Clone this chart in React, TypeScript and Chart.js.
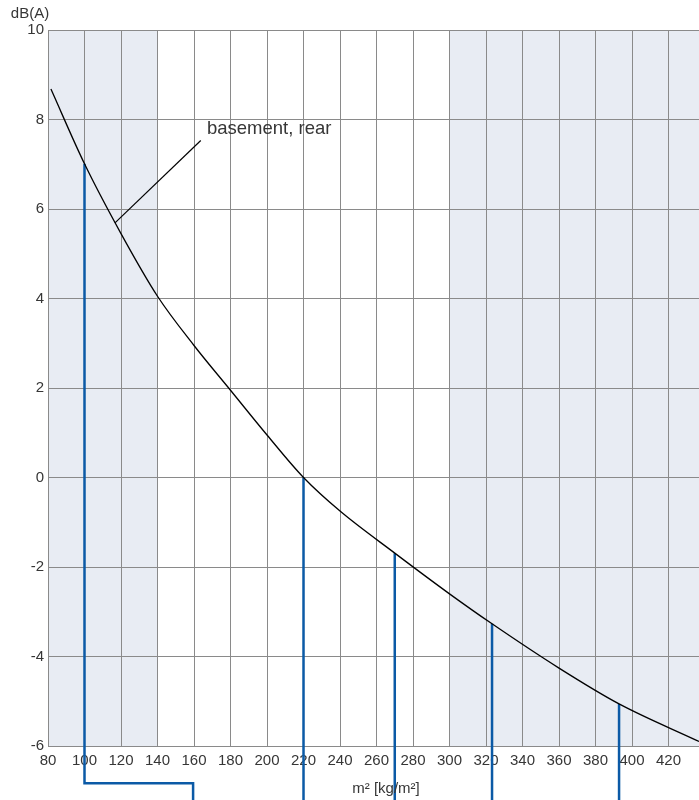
import { useEffect, useRef } from "react";
import { Chart, registerables } from "chart.js";

Chart.register(...registerables);

// Axis ticks
const xTicks = [80, 100, 120, 140, 160, 180, 200, 220, 240, 260, 280, 300, 320, 340, 360, 380, 400, 420];
const yTicks = [-6, -4, -2, 0, 2, 4, 6, 8, 10];
const xMin = 80;
const xMax = 436.7;
const yMin = -6;
const yMax = 10;

// Curve "basement, rear"
const curveX = [81.6, 100, 120, 140, 160, 180, 200, 220, 240, 270, 300, 323.3, 360, 392.9, 436.7];
const curveY = [8.68, 7.01, 5.45, 4.05, 2.95, 1.95, 0.95, 0, -0.75, -1.69, -2.6, -3.27, -4.26, -5.06, -5.9];

// Blue drop lines
const dropX = [100, 220, 270, 323.3, 392.9];
const dropTopY = [7.01, 0, -1.69, -3.27, -5.06];
const dropBottomY = -7.4;
const elbowY = -6.83;
const elbowX = 159.5;

// Leader line and label
const leaderX = [116.7, 163.7];
const leaderY = [5.69, 7.53];
const labelText = "basement, rear";
const labelX = 167.1;
const labelY = 7.79;

// Shaded bands
const bandFrom = [80, 300];
const bandTo = [140, 436.7];

const GRID = "#8a8a8a";
const BLUE = "#0b5aa6";
const TEXT = "#363636";
const FONT = "'Liberation Sans', Arial, sans-serif";

export default function App() {
  const ref = useRef<HTMLCanvasElement | null>(null);

  useEffect(() => {
    if (!ref.current) return;

    const dropSets = dropX.map((x, i) => {
      const pts =
        i === 0
          ? [
              { x, y: dropTopY[i] },
              { x, y: elbowY },
              { x: elbowX, y: elbowY },
              { x: elbowX, y: dropBottomY },
            ]
          : [
              { x, y: dropTopY[i] },
              { x, y: dropBottomY },
            ];
      return {
        data: pts,
        showLine: true,
        borderColor: BLUE,
        borderWidth: 2.5,
        pointRadius: 0,
        tension: 0,
        clip: false as any,
        order: 2,
      };
    });

    const bandsPlugin = {
      id: "bands",
      beforeDraw(chart: any) {
        const { ctx, chartArea, scales } = chart;
        ctx.save();
        ctx.fillStyle = "#e8ecf3";
        bandFrom.forEach((f, i) => {
          const x0 = scales.x.getPixelForValue(f);
          const x1 = scales.x.getPixelForValue(bandTo[i]);
          ctx.fillRect(x0, chartArea.top, x1 - x0, chartArea.bottom - chartArea.top);
        });
        ctx.restore();
      },
    };

    const textPlugin = {
      id: "texts",
      afterDraw(chart: any) {
        const { ctx, scales } = chart;
        ctx.save();
        ctx.fillStyle = TEXT;
        ctx.textBaseline = "middle";
        ctx.font = `15px ${FONT}`;
        ctx.textAlign = "center";
        ctx.fillText("dB(A)", 30, 14);
        ctx.fillText("m² [kg/m²]", 386, 789);
        ctx.textAlign = "left";
        ctx.font = `18.5px ${FONT}`;
        ctx.fillText(labelText, scales.x.getPixelForValue(labelX), scales.y.getPixelForValue(labelY));
        ctx.restore();
      },
    };

    const chart = new Chart(ref.current, {
      type: "scatter",
      data: {
        datasets: [
          {
            data: curveX.map((x, i) => ({ x, y: curveY[i] })),
            showLine: true,
            borderColor: "#000",
            borderWidth: 1.3,
            pointRadius: 0,
            cubicInterpolationMode: "monotone",
            order: 1,
          },
          ...dropSets,
          {
            data: leaderX.map((x, i) => ({ x, y: leaderY[i] })),
            showLine: true,
            borderColor: "#000",
            borderWidth: 1.2,
            pointRadius: 0,
            order: 1,
          },
        ] as any,
      },
      options: {
        animation: false,
        responsive: false,
        layout: { padding: { top: 30, left: 0, right: 0, bottom: 0 } },
        plugins: {
          legend: { display: false },
          tooltip: { enabled: false },
        },
        scales: {
          x: {
            type: "linear",
            min: xMin,
            max: xMax,
            afterBuildTicks: (s: any) => {
              s.ticks = xTicks.map((v) => ({ value: v }));
            },
            afterFit: (s: any) => {
              s.height = 54;
            },
            grid: { color: GRID, lineWidth: 1, drawTicks: false },
            border: { color: GRID, width: 1 },
            ticks: {
              padding: 6,
              color: TEXT,
              font: { family: FONT, size: 15 },
              maxRotation: 0,
              autoSkip: false,
              callback: (v: any) => String(v),
            },
          },
          y: {
            type: "linear",
            min: yMin,
            max: yMax,
            afterBuildTicks: (s: any) => {
              s.ticks = yTicks.map((v) => ({ value: v }));
            },
            afterFit: (s: any) => {
              s.width = 48;
            },
            grid: { color: GRID, lineWidth: 1, drawTicks: false },
            border: { color: GRID, width: 1 },
            ticks: {
              padding: 4,
              color: TEXT,
              font: { family: FONT, size: 15 },
              autoSkip: false,
              callback: (v: any) => String(v),
            },
          },
        },
      } as any,
      plugins: [bandsPlugin, textPlugin],
    });

    return () => chart.destroy();
  }, []);

  return (
    <div style={{ position: "absolute", left: 0, top: 0, width: 699, height: 800, background: "#fff" }}>
      <canvas ref={ref} width={699} height={800} style={{ display: "block" }} />
    </div>
  );
}
